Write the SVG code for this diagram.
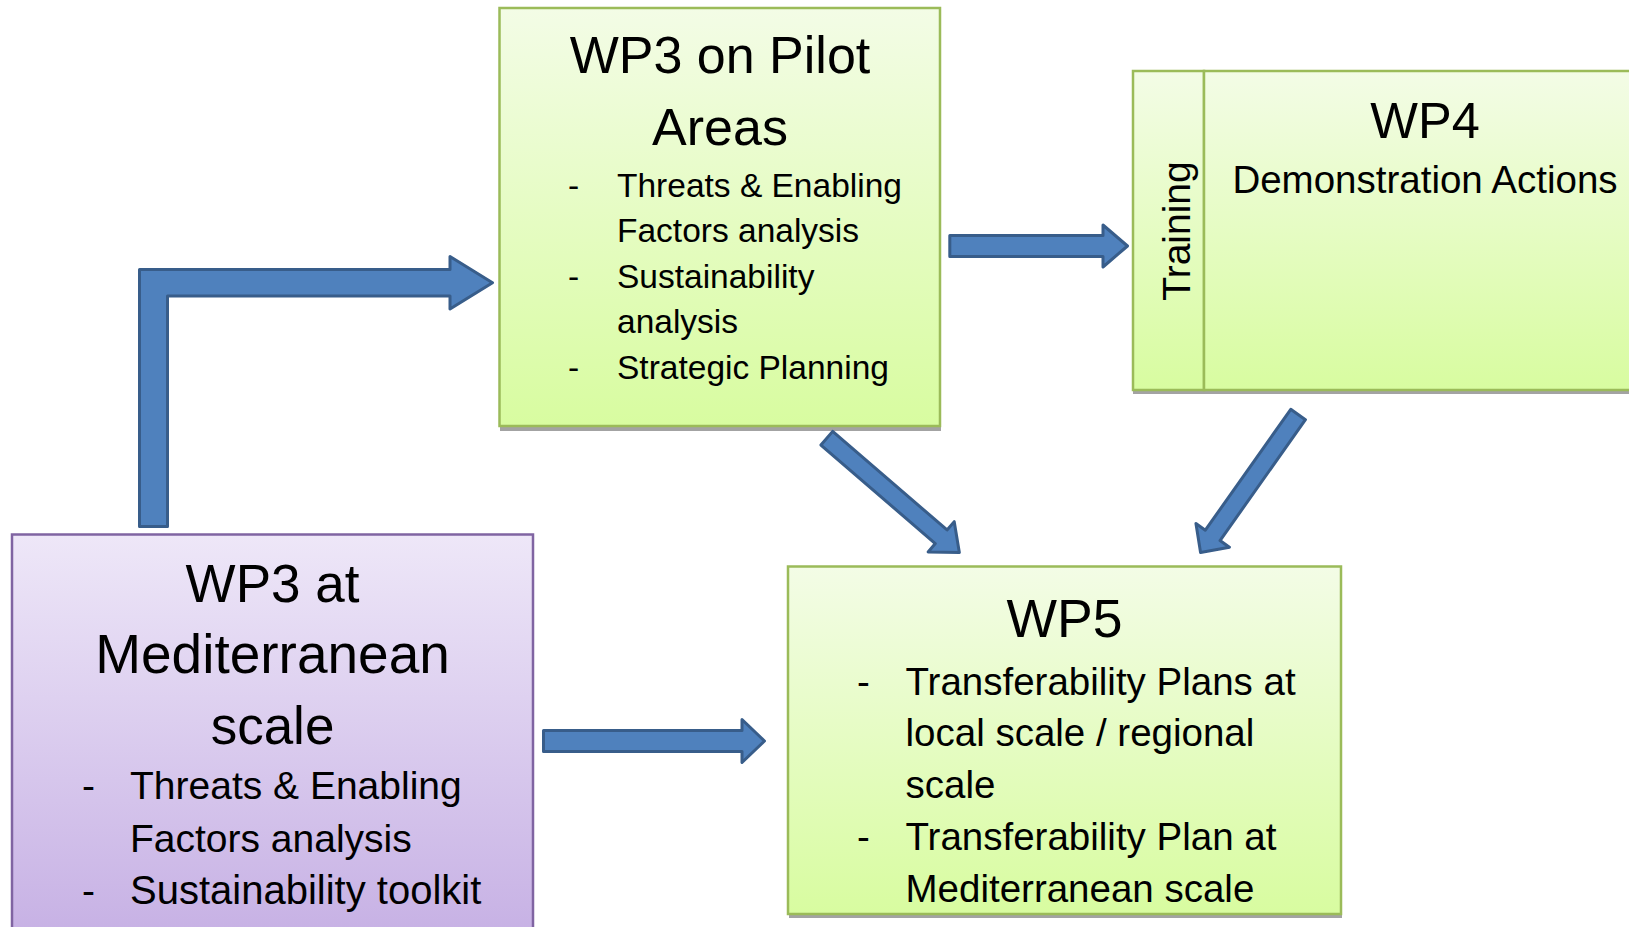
<svg xmlns="http://www.w3.org/2000/svg" width="1629" height="927" viewBox="0 0 1629 927">
<defs>
<linearGradient id="gGreen" x1="0" y1="0" x2="0" y2="1">
<stop offset="0" stop-color="#F3FCE6"/>
<stop offset="1" stop-color="#D8FCA0"/>
</linearGradient>
<linearGradient id="gPurple" x1="0" y1="0" x2="0" y2="1">
<stop offset="0" stop-color="#EEE7F8"/>
<stop offset="1" stop-color="#C4ADE3"/>
</linearGradient>
<style>
.green{fill:url(#gGreen);stroke:#9BBB59;stroke-width:2.5}
.purple{fill:url(#gPurple);stroke:#8064A2;stroke-width:2.5}
.shadow{fill:#A3A3A3}
.arrow{fill:#4F81BD;stroke:#385D8A;stroke-width:3;stroke-linejoin:round}
text{font-family:"Liberation Sans",Arial,sans-serif;fill:#000}
.t{text-anchor:middle}
</style>
</defs>
<rect width="1629" height="927" fill="#FFFFFF"/>

<g id="wp3-pilot">
<rect class="shadow" x="500" y="12" width="441" height="419"/>
<rect class="green" x="499.5" y="8" width="440.5" height="418"/>
<text class="t" x="720" y="73" font-size="52">WP3 on Pilot</text>
<text class="t" x="720" y="145" font-size="52">Areas</text>
<g font-size="33.5">
<text x="568" y="197">-</text><text x="617" y="197">Threats &amp; Enabling</text>
<text x="617" y="242">Factors analysis</text>
<text x="568" y="288">-</text><text x="617" y="288">Sustainability</text>
<text x="617" y="333">analysis</text>
<text x="568" y="379">-</text><text x="617" y="379">Strategic Planning</text>
</g>
</g>

<g id="wp4">
<rect class="shadow" x="1133" y="75" width="540" height="319"/>
<rect class="green" x="1133" y="71" width="71" height="319"/>
<rect class="green" x="1204" y="71" width="460" height="319"/>
<text transform="translate(1190,231) rotate(-90)" class="t" font-size="39">Training</text>
<text class="t" x="1425" y="138" font-size="50.5">WP4</text>
<text class="t" x="1425" y="193" font-size="38.5">Demonstration Actions</text>
</g>

<g id="wp3-med">
<rect class="purple" x="12" y="534.5" width="521" height="430"/>
<text class="t" x="272.5" y="602" font-size="53">WP3 at</text>
<text class="t" x="272.5" y="673" font-size="55">Mediterranean</text>
<text class="t" x="272.5" y="744" font-size="53">scale</text>
<g font-size="39">
<text x="82" y="799">-</text><text x="130" y="799">Threats &amp; Enabling</text>
<text x="130" y="852">Factors analysis</text>
<text x="82" y="904">-</text><text x="130" y="904" font-size="40">Sustainability toolkit</text>
</g>
</g>

<g id="wp5">
<rect class="shadow" x="789" y="570" width="553" height="348"/>
<rect class="green" x="788" y="566.5" width="553" height="347.5"/>
<text class="t" x="1064.5" y="637" font-size="53.5">WP5</text>
<g font-size="38.5">
<text x="857" y="695">-</text><text x="905.5" y="695">Transferability Plans at</text>
<text x="905.5" y="746">local scale / regional</text>
<text x="905.5" y="798">scale</text>
<text x="857" y="850">-</text><text x="905.5" y="850">Transferability Plan at</text>
<text x="905.5" y="902">Mediterranean scale</text>
</g>
</g>

<g id="connectors">
<path class="arrow" d="M139.5,526.5 L139.5,269.5 L450,269.5 L450,256.5 L492.5,282.7 L450,309 L450,296 L167.5,296 L167.5,526.5 Z"/>
<path class="arrow" d="M949.8,235.5 L1103,235.5 L1103,225 L1127.5,246 L1103,267 L1103,256.5 L949.8,256.5 Z"/>
<path class="arrow" d="M543.5,730.5 L742,730.5 L742,719.5 L764.5,741 L742,762.5 L742,751.5 L543.5,751.5 Z"/>
<path class="arrow" transform="translate(826.8,438.2) rotate(40.76)" d="M0,-9 L151,-9 L151,-20 L175,0 L151,20 L151,9 L0,9 Z"/>
<path class="arrow" transform="translate(1298.1,414.5) rotate(125.25)" d="M0,-9 L148,-9 L148,-20.5 L169,0 L148,20.5 L148,9 L0,9 Z"/>
</g>
</svg>
